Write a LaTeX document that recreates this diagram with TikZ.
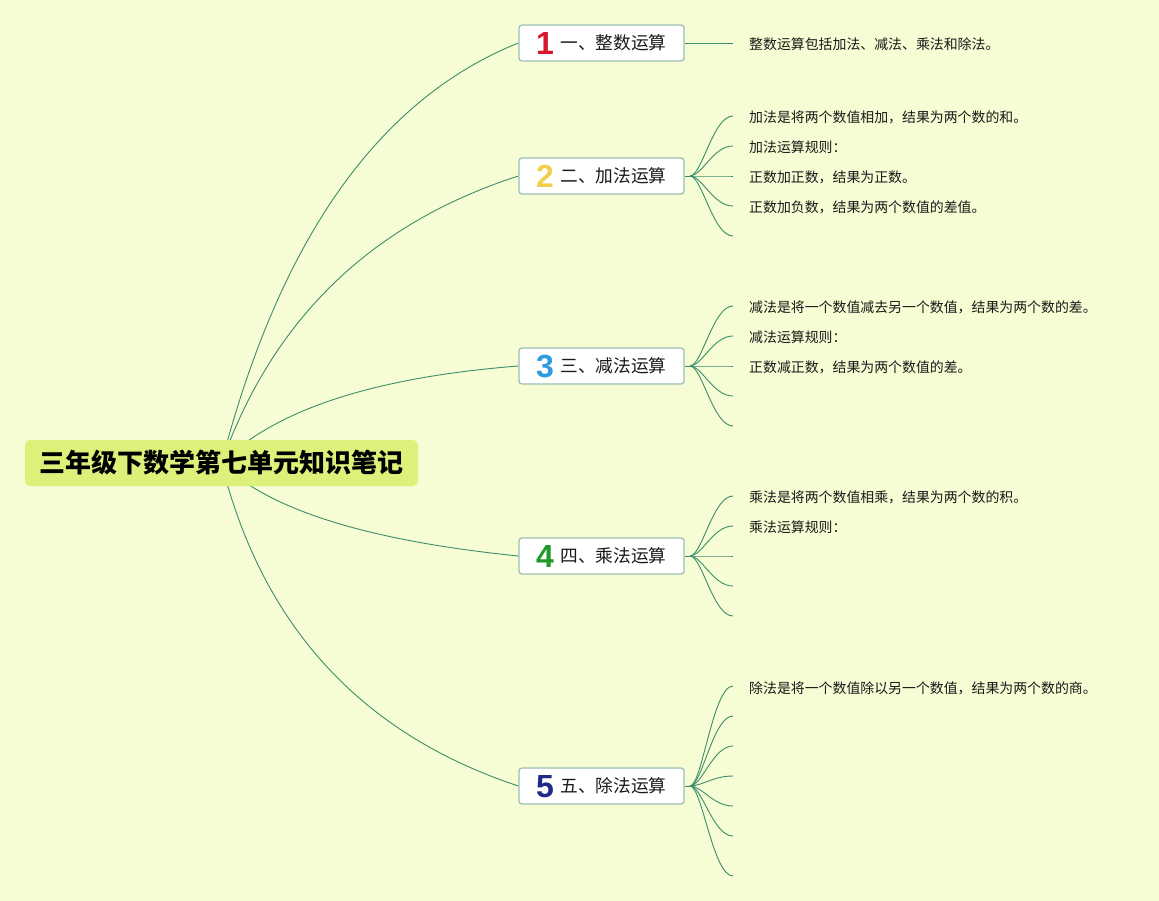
\documentclass[tikz,border=0pt]{standalone}
\usepackage{fontspec}
\newfontfamily\cjk{Noto Sans CJK SC}
\newfontfamily\numf{Liberation Sans}
\usetikzlibrary{calc}
\definecolor{bgc}{HTML}{F6FCD3}
\definecolor{rootfill}{HTML}{DCF07A}
\definecolor{boxline}{HTML}{9CBFB2}
\definecolor{edgec}{HTML}{3C8E6C}
\definecolor{txt}{HTML}{1A1A1A}
\definecolor{nA}{HTML}{D7182D}
\definecolor{nB}{HTML}{F0D04C}
\definecolor{nC}{HTML}{2B9BE0}
\definecolor{nD}{HTML}{1E9A2A}
\definecolor{nE}{HTML}{1E2A86}
\newcommand\bnum[2]{\makebox[17pt][c]{\raisebox{-4.6pt}[0pt][0pt]{\numf\bfseries\fontsize{32}{32}\selectfont\color{#1}#2}}\hspace{7pt}}
\pgfdeclarelayer{bgl}
\pgfdeclarelayer{edges}
\pgfsetlayers{bgl,edges,main}
\tikzset{
  rootbox/.style={fill=rootfill, rounded corners=5pt, minimum width=393pt, minimum height=46pt, inner sep=0pt,
    font=\cjk\bfseries\fontsize{26}{28}\selectfont, text=black},
  branchbox/.style={fill=white, draw=boxline, line width=1.3pt, rounded corners=3pt, minimum width=165pt,
    minimum height=36pt, inner sep=0pt, font=\cjk\fontsize{17.7}{20}\selectfont, text=txt},
  rootedge/.style={draw=edgec, line width=0.9pt},
  leafedge/.style={draw=edgec, line width=0.9pt},
  leaftext/.style={anchor=west, inner sep=0pt, font=\cjk\fontsize{13.9}{16}\selectfont, text=txt}
}
\begin{document}
\begin{tikzpicture}[x=1pt,y=-1pt]
\begin{pgfonlayer}{bgl}
\fill[bgc] (0,0) rectangle (1159,901);
\end{pgfonlayer}
\useasboundingbox (0,0) rectangle (1159,901);

\node[rootbox] (root) at (221.5,463) {三年级下数学第七单元知识笔记};

\node[branchbox] (b1) at (601.5,43) {\bnum{nA}{1}一、整数运算};
\node[branchbox] (b2) at (601.5,176) {\bnum{nB}{2}二、加法运算};
\node[branchbox] (b3) at (601.5,366) {\bnum{nC}{3}三、减法运算};
\node[branchbox] (b4) at (601.5,556) {\bnum{nD}{4}四、乘法运算};
\node[branchbox] (b5) at (601.5,786) {\bnum{nE}{5}五、除法运算};

\begin{pgfonlayer}{edges}
\foreach \i/\qx/\qy in {1/309/127, 2/298/247, 3/302/383, 4/292/533, 5/283/708} {
  \coordinate (q\i) at (\qx,\qy);
  \draw[rootedge] (root.center) .. controls ($(root.center)!0.667!(q\i)$) and ($(b\i.west)!0.667!(q\i)$) .. (b\i.west);
}
\end{pgfonlayer}

% hubs
\foreach \i/\y in {2/176, 3/366, 4/556, 5/786} {
  \coordinate (h\i) at (690,\y);
  \draw[leafedge] (b\i.east) -- (h\i);
}
% branch 1 leaf
\coordinate (l11) at (733,43);
\draw[leafedge] (b1.east) -- (l11);
% fan leaves
\foreach \i/\j/\y in {2/1/116, 2/2/146, 2/3/176, 2/4/206, 2/5/236,
                      3/1/306, 3/2/336, 3/3/366, 3/4/396, 3/5/426,
                      4/1/496, 4/2/526, 4/3/556, 4/4/586, 4/5/616,
                      5/1/686, 5/2/716, 5/3/746, 5/4/776, 5/5/806, 5/6/836, 5/7/876} {
  \coordinate (l\i\j) at (733,\y);
  \draw[leafedge] (h\i) .. controls +(12,0) and +(-20,0) .. (l\i\j);
}

\node[leaftext] (t11) at (749,44) {整数运算包括加法、减法、乘法和除法。};
\node[leaftext] (t21) at (749,117) {加法是将两个数值相加，结果为两个数的和。};
\node[leaftext] (t22) at (749,147) {加法运算规则：};
\node[leaftext] (t23) at (749,177) {正数加正数，结果为正数。};
\node[leaftext] (t24) at (749,207) {正数加负数，结果为两个数值的差值。};
\node[leaftext] (t31) at (749,307) {减法是将一个数值减去另一个数值，结果为两个数的差。};
\node[leaftext] (t32) at (749,337) {减法运算规则：};
\node[leaftext] (t33) at (749,367) {正数减正数，结果为两个数值的差。};
\node[leaftext] (t41) at (749,497) {乘法是将两个数值相乘，结果为两个数的积。};
\node[leaftext] (t42) at (749,527) {乘法运算规则：};
\node[leaftext] (t51) at (749,688) {除法是将一个数值除以另一个数值，结果为两个数的商。};
\end{tikzpicture}
\end{document}
